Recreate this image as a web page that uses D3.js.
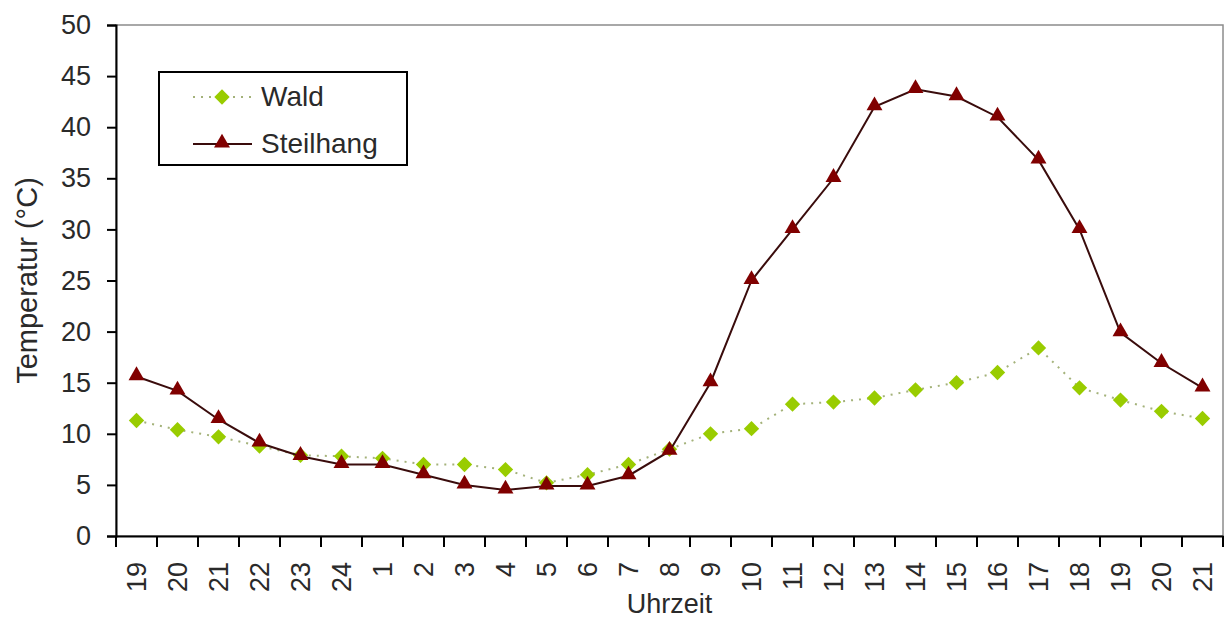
<!DOCTYPE html>
<html>
<head>
<meta charset="utf-8">
<script src="https://cdn.jsdelivr.net/npm/d3@7"></script>
<style>
  body { margin: 0; background: #fff; }
  svg { font-family: "Liberation Sans", Arial, sans-serif; }
</style>
</head>
<body>
<div id="chart"></div>
<script>
// categories (hour of day) and series values in °C
const hours = ['19','20','21','22','23','24','1','2','3','4','5','6','7','8','9','10','11','12','13','14','15','16','17','18','19','20','21'];
const wald = [11.3, 10.4, 9.7, 8.8, 7.9, 7.8, 7.6, 7.0, 7.0, 6.5, 5.2, 6.0, 7.0, 8.5, 10.0, 10.5, 12.9, 13.1, 13.5, 14.3, 15.0, 16.0, 18.4, 14.5, 13.3, 12.2, 11.5];
const steilhang = [15.6, 14.2, 11.4, 9.1, 7.8, 7.0, 7.0, 6.0, 5.0, 4.5, 4.9, 4.9, 5.9, 8.3, 15.0, 25.0, 30.0, 35.0, 42.0, 43.7, 43.0, 41.0, 36.8, 30.0, 19.9, 16.9, 14.5];
const yTicks = [0, 5, 10, 15, 20, 25, 30, 35, 40, 45, 50];

const w = 1226, h = 619;
const padL = 116, padR = 1223, padT = 25, padB = 536;
const txt = '#2a2a2a';

const svg = d3.select('#chart').append('svg')
  .attr('width', w)
  .attr('height', h);

// one band per hour, point sits in the middle of its band
const x = d3.scaleBand().domain(d3.range(hours.length)).range([padL, padR]).padding(0);
const y = d3.scaleLinear().domain([0, 50]).range([padB, padT]);
const cx = i => x(i) + x.bandwidth() / 2;

// plot area border (top/right grey)
svg.append('rect')
  .attr('x', padL).attr('y', padT)
  .attr('width', padR - padL).attr('height', padB - padT)
  .attr('fill', 'none').attr('stroke', '#8c8c8c').attr('stroke-width', 1.5);

// Y-AXIS
const yAxis = d3.axisLeft(y).tickValues(yTicks).tickSize(9).tickPadding(16);
const gy = svg.append('g').attr('transform', `translate(${padL},0)`).call(yAxis);
gy.select('.domain').attr('stroke', '#000').attr('stroke-width', 2);
gy.selectAll('.tick line').attr('stroke', '#000').attr('stroke-width', 2);
gy.selectAll('text').attr('font-size', 27).attr('fill', txt);

// X-AXIS: ticks between categories, labels rotated
const xAxis = d3.axisBottom(x).tickSize(0).tickFormat(i => hours[i]);
const gx = svg.append('g').attr('transform', `translate(0,${padB})`).call(xAxis);
gx.select('.domain').attr('stroke', '#000').attr('stroke-width', 2);
gx.selectAll('.tick text')
  .attr('font-size', 27).attr('fill', txt)
  .attr('transform', 'rotate(-90)')
  .attr('text-anchor', 'end')
  .attr('x', -26).attr('y', 0).attr('dy', '0.35em');
gx.selectAll('.sep')
  .data(d3.range(hours.length + 1))
  .enter().append('line')
  .attr('class', 'sep')
  .attr('x1', i => padL + i * x.bandwidth())
  .attr('x2', i => padL + i * x.bandwidth())
  .attr('y1', 0).attr('y2', 11)
  .attr('stroke', '#000').attr('stroke-width', 2);

// axis titles
svg.append('text')
  .attr('transform', `translate(37,${(padT + padB) / 2}) rotate(-90)`)
  .attr('text-anchor', 'middle')
  .attr('font-size', 29).attr('fill', txt)
  .text('Temperatur (°C)');

svg.append('text')
  .attr('x', (padL + padR) / 2).attr('y', 613)
  .attr('text-anchor', 'middle')
  .attr('font-size', 27).attr('fill', txt)
  .text('Uhrzeit');

const line = d3.line().x((d, i) => cx(i)).y(d => y(d));

// Wald - dotted line, green diamonds
svg.append('path')
  .datum(wald)
  .attr('d', line)
  .attr('fill', 'none')
  .attr('stroke', '#a4b27a')
  .attr('stroke-width', 2)
  .attr('stroke-dasharray', '2,6');

const diamond = d3.symbol().type(d3.symbolDiamond2).size(150);
const triangle = d3.symbol().type(d3.symbolTriangle).size(110);

svg.selectAll('.wald')
  .data(wald)
  .enter().append('path')
  .attr('class', 'wald')
  .attr('d', diamond)
  .attr('transform', (d, i) => `translate(${cx(i)},${y(d)})`)
  .attr('fill', '#99cc00');

// Steilhang - solid line, dark red triangles
svg.append('path')
  .datum(steilhang)
  .attr('d', line)
  .attr('fill', 'none')
  .attr('stroke', '#3a0c0c')
  .attr('stroke-width', 2);

svg.selectAll('.steil')
  .data(steilhang)
  .enter().append('path')
  .attr('class', 'steil')
  .attr('d', triangle)
  .attr('transform', (d, i) => `translate(${cx(i)},${y(d) - 1})`)
  .attr('fill', '#800000');

// LEGEND
const lg = svg.append('g').attr('transform', 'translate(159,72)');
lg.append('rect')
  .attr('width', 248).attr('height', 93)
  .attr('fill', '#fff').attr('stroke', '#000').attr('stroke-width', 2);

lg.append('line')
  .attr('x1', 34).attr('x2', 93).attr('y1', 25).attr('y2', 25)
  .attr('stroke', '#a4b27a').attr('stroke-width', 2).attr('stroke-dasharray', '2,6');
lg.append('path').attr('d', diamond)
  .attr('transform', 'translate(63,25)').attr('fill', '#99cc00');
lg.append('text').attr('x', 102).attr('y', 34)
  .attr('font-size', 28).attr('fill', txt).text('Wald');

lg.append('line')
  .attr('x1', 34).attr('x2', 93).attr('y1', 72).attr('y2', 72)
  .attr('stroke', '#3a0c0c').attr('stroke-width', 2);
lg.append('path').attr('d', triangle)
  .attr('transform', 'translate(63,71)').attr('fill', '#800000');
lg.append('text').attr('x', 102).attr('y', 81)
  .attr('font-size', 28).attr('fill', txt).text('Steilhang');
</script>
</body>
</html>
